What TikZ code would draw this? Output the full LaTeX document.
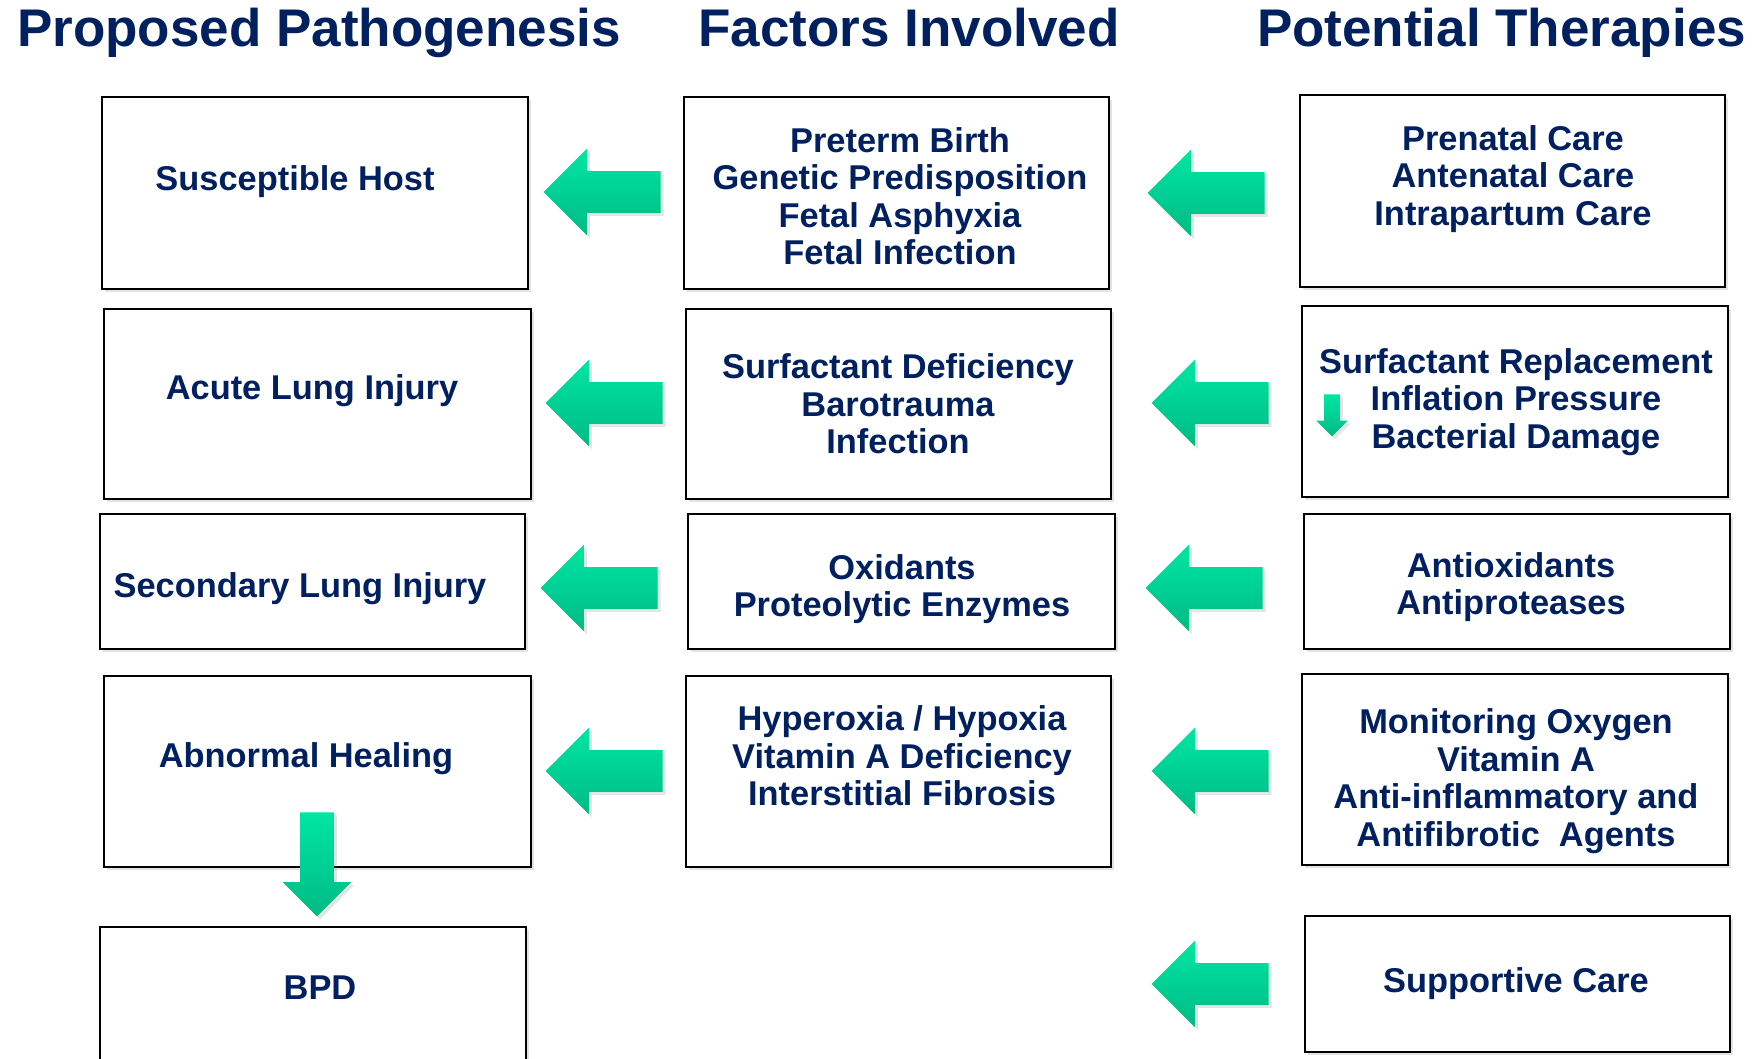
\documentclass[tikz,border=0pt]{standalone}
\usepackage{fontspec}
\setmainfont{Liberation Sans}
\usetikzlibrary{shapes.arrows,shadows}
\definecolor{navy}{HTML}{002060}
\definecolor{gtop}{HTML}{00E6A3}
\definecolor{gbot}{HTML}{00BA84}
\begin{document}
\begin{tikzpicture}[x=0.5pt,y=-0.5pt,
  box/.style={draw=black, line width=1.1pt, fill=white, inner sep=0pt,
    drop shadow={opacity=0.22, shadow xshift=1.5pt, shadow yshift=-1.5pt}},
  txt/.style={text=navy, font=\bfseries\fontsize{17.2}{18.75}\selectfont, align=center, inner sep=0pt},
  ttl/.style={text=navy, font=\bfseries\fontsize{26.5}{30}\selectfont, anchor=base, inner sep=0pt},
  garrow/.style={single arrow, top color=gtop, bottom color=gbot, draw=none, anchor=tip,
    drop shadow={opacity=0.2, shadow xshift=1.5pt, shadow yshift=-1.5pt}},
  larrow/.style={garrow, shape border rotate=180, minimum height=58.5pt, inner sep=10.25pt,
    single arrow head extend=11.25pt},
  darrow/.style={garrow, shape border rotate=270}
]
\path[use as bounding box, clip] (0,0) rectangle (1755,1059);
\fill[white] (0,0) rectangle (1755,1059);

% titles
\node[ttl] (t1) at (319,47) {Proposed Pathogenesis};
\node[ttl] (t2) at (909,47) {Factors Involved};
\node[ttl] (t3) at (1501.5,47) {Potential Therapies};

% left column boxes
\node[box, minimum width=213pt, minimum height=96pt] (l1) at (315,193) {};
\node[box, minimum width=213.5pt, minimum height=95pt] (l2) at (317.5,404) {};
\node[box, minimum width=212.5pt, minimum height=67.5pt] (l3) at (312.5,581.5) {};
\node[box, minimum width=213.5pt, minimum height=95.5pt] (l4) at (317.5,771.5) {};
\node[box, minimum width=213pt, minimum height=96pt] (l5) at (313,1023) {};

% middle column boxes
\node[box, minimum width=212.5pt, minimum height=96pt] (m1) at (896.5,193) {};
\node[box, minimum width=212.5pt, minimum height=95pt] (m2) at (898.5,404) {};
\node[box, minimum width=213.5pt, minimum height=67.5pt] (m3) at (901.5,581.5) {};
\node[box, minimum width=212.5pt, minimum height=95.5pt] (m4) at (898.5,771.5) {};

% right column boxes
\node[box, minimum width=212.5pt, minimum height=96pt] (r1) at (1512.5,191) {};
\node[box, minimum width=213pt, minimum height=95.5pt] (r2) at (1515,401.5) {};
\node[box, minimum width=213pt, minimum height=67.5pt] (r3) at (1517,581.5) {};
\node[box, minimum width=213pt, minimum height=95.5pt] (r4) at (1515,769.5) {};
\node[box, minimum width=212.5pt, minimum height=68pt] (r5) at (1517.5,984) {};

% texts
\node[txt] (l1t) at (295,182) {Susceptible Host};
\node[txt] (l2t) at (312,391) {Acute Lung Injury};
\node[txt] (l3t) at (300,589) {Secondary Lung Injury};
\node[txt] (l4t) at (306,759) {Abnormal Healing};
\node[txt] (l5t) at (320,988) {BPD};

\node[txt] (m1t) at (900,196) {Preterm Birth\\Genetic Predisposition\\Fetal Asphyxia\\Fetal Infection};
\node[txt] (m2t) at (898,404) {Surfactant Deficiency\\Barotrauma\\Infection};
\node[txt] (m3t) at (902,589) {Oxidants\\Proteolytic Enzymes};
\node[txt] (m4t) at (902,756) {Hyperoxia / Hypoxia\\Vitamin A Deficiency\\Interstitial Fibrosis};

\node[txt] (r1t) at (1513,179) {Prenatal Care\\Antenatal Care\\Intrapartum Care};
\node[txt] (r2t) at (1516,402) {Surfactant Replacement\\Inflation Pressure\\Bacterial Damage};
\node[txt] (r3t) at (1511,587) {Antioxidants\\Antiproteases};
\node[txt] (r4t) at (1516,781) {Monitoring Oxygen\\Vitamin A\\Anti-inflammatory and\\Antifibrotic\ \ Agents};
\node[txt] (r5t) at (1516,984) {Supportive Care};

% left-pointing arrows (positioned by their tips)
\node[larrow] (la1) at (543,192) {};
\node[larrow] (la2) at (545,403) {};
\node[larrow] (la3) at (540,588) {};
\node[larrow] (la4) at (545,771) {};
\node[larrow] (ra1) at (1147,193) {};
\node[larrow] (ra2) at (1151,403) {};
\node[larrow] (ra3) at (1145,588) {};
\node[larrow] (ra4) at (1151,771) {};
\node[larrow] (ra5) at (1151,984) {};

% down arrows
\node[darrow, minimum height=52pt, inner sep=8.25pt, single arrow head extend=8.75pt] (d1) at (317,917) {};
\node[darrow, minimum height=21pt, inner sep=3.75pt, single arrow head extend=4pt] (d2) at (1332,437) {};
\end{tikzpicture}
\end{document}
